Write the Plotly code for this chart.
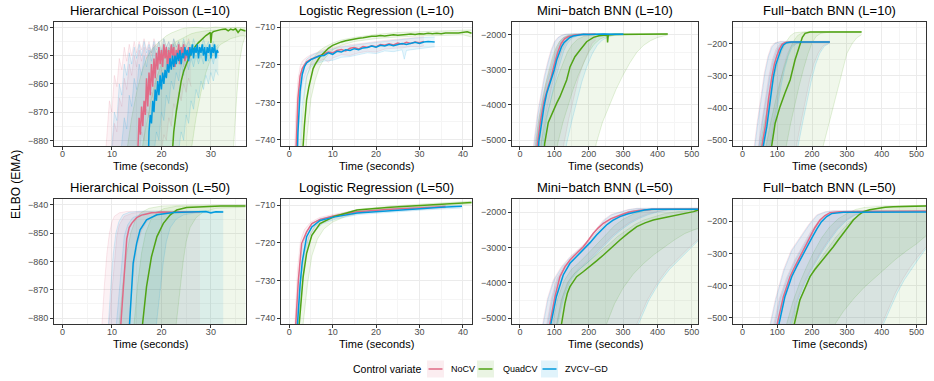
import plotly.graph_objects as go

# ---------------------------------------------------------------- data
# each curve: list of (time in seconds, ELBO EMA)
series_names = ["NoCV", "QuadCV", "ZVCV\u2212GD"]

# ---- Hierarchical Poisson (L=10)
hp10_nocv_med = [(15,-895),(15.25,-880),(15.5,-872),(15.75,-878),(16,-868),(16.25,-875),(16.5,-866),(16.75,-871),(17,-858),(17.25,-868),(17.5,-856),(17.75,-864),(18,-853),(18.25,-861),(18.5,-851),(18.75,-858),(19,-849),(19.25,-855),(19.5,-847),(19.75,-853),(20,-848),(20.25,-854),(20.5,-846),(20.75,-851),(21,-847),(21.25,-855),(21.5,-848),(21.75,-852),(22,-846),(22.25,-850),(22.5,-847),(22.75,-854),(23,-848),(23.25,-851),(23.5,-846),(23.75,-853),(24,-847),(24.25,-850),(24.5,-846),(24.75,-852),(25,-848),(25.25,-851),(25.5,-847),(25.75,-850),(26,-848)]
hp10_nocv_q95 = [(8.5,-890),(9,-878),(9.5,-866),(10,-870),(10.5,-857),(11,-861),(11.5,-851),(12,-855),(12.5,-847),(13,-852),(13.5,-846),(14,-850),(14.5,-845),(15,-849),(15.5,-845),(16,-848),(16.5,-844),(17,-848),(17.5,-845),(18,-849),(18.5,-844),(19,-847),(19.5,-845),(20,-848),(20.5,-844),(21,-847),(21.5,-845),(22,-849),(22.5,-844),(23,-847),(23.5,-845),(24,-848),(24.5,-845),(25,-847),(25.5,-844),(26,-847)]
hp10_nocv_q75 = [(9.5,-890),(10,-884),(10.5,-874),(11,-877),(11.5,-865),(12,-868),(12.5,-858),(13,-862),(13.5,-853),(14,-857),(14.5,-850),(15,-854),(15.5,-848),(16,-852),(16.5,-847),(17,-851),(17.5,-847),(18,-850),(18.5,-846),(19,-850),(19.5,-847),(20,-851),(20.5,-846),(21,-849),(21.5,-847),(22,-851),(22.5,-846),(23,-849),(23.5,-847),(24,-850),(24.5,-846),(25,-849),(25.5,-847),(26,-849)]
hp10_nocv_q25 = [(15,-890),(15.5,-885),(16,-877),(16.5,-880),(17,-869),(17.5,-872),(18,-863),(18.5,-866),(19,-858),(19.5,-861),(20,-855),(20.5,-858),(21,-852),(21.5,-856),(22,-851),(22.5,-855),(23,-850),(23.5,-853),(24,-850),(24.5,-854),(25,-849),(25.5,-852),(26,-850)]
hp10_nocv_q05 = [(19.5,-890),(20,-884),(20.5,-878),(21,-880),(21.5,-872),(22,-875),(22.5,-867),(23,-870),(23.5,-863),(24,-866),(24.5,-860),(25,-863),(25.5,-858),(26,-861)]
hp10_quad_med = [(21.8,-895),(22.5,-877),(23,-870),(23.5,-864),(24,-859),(24.5,-855.5),(25,-853),(25.5,-851),(26,-849),(26.5,-847.6),(27,-846.4),(27.5,-845.4),(28,-844.5),(28.5,-843.6),(29,-842.9),(29.5,-842.3),(29.9,-841.8),(30,-845.5),(30.2,-842),(30.5,-841.5),(31,-841.2),(31.5,-840.9),(32,-840.8),(32.5,-840.7),(33,-840.6),(33.5,-841.2),(34,-840.6),(34.5,-840.9),(35,-840.5),(35.5,-841.8),(36,-840.7),(36.5,-841.0),(37,-841.3)]
hp10_quad_q95 = [(12,-890),(13,-884),(14,-872),(15,-863),(16,-856),(17,-851),(18,-848),(19,-846),(20,-844.5),(21,-843),(22,-842),(23,-841.2),(24,-840.6),(25,-840.2),(27,-840.0),(29,-840.3),(31,-839.9),(33,-840.2),(35,-840.0),(37,-840.2)]
hp10_quad_q75 = [(15,-890),(16,-884),(17,-874),(18,-865),(19,-858),(20,-853),(21,-849),(22,-846.5),(23,-845),(24,-844),(25,-843),(26,-842.3),(27,-841.8),(28,-841.5),(29,-841.2),(31,-841.0),(33,-840.9),(35,-840.8),(37,-840.8)]
hp10_quad_q25 = [(25,-890),(26,-884),(27,-872),(28,-863),(29,-856),(30,-851),(31,-848),(32,-846),(33,-845),(34,-844),(35,-843.5),(36,-843),(37,-843)]
hp10_quad_q05 = [(34,-890),(34.6,-882),(35.2,-865),(35.8,-852),(36.4,-846),(37,-843)]
hp10_zv_med = [(17.25,-895),(17.5,-877),(17.75,-871),(18,-874),(18.25,-866),(18.5,-870),(18.75,-862),(19,-866),(19.25,-859),(19.5,-864),(19.75,-857),(20,-862),(20.25,-856),(20.5,-860),(20.75,-855),(21,-858),(21.25,-853),(21.5,-856),(21.75,-851),(22,-855),(22.25,-850),(22.5,-854),(22.75,-850),(23,-853),(23.25,-849),(23.5,-852),(23.75,-848),(24,-853),(24.25,-849),(24.5,-851),(24.75,-847),(25,-850),(25.25,-848),(25.5,-852),(25.75,-847),(26,-850),(26.25,-846),(26.5,-851),(26.75,-847),(27,-849),(27.25,-846),(27.5,-851),(27.75,-847),(28,-849),(28.25,-846),(28.5,-850),(28.75,-847),(29,-852),(29.25,-847),(29.5,-849),(29.75,-846),(30,-851),(30.25,-847),(30.5,-849),(30.75,-846),(31,-851),(31.25,-848),(31.5,-849)]
hp10_zv_q95 = [(9.5,-890),(10,-882),(10.5,-870),(11,-873),(11.5,-860),(12,-864),(12.5,-853),(13,-857),(13.5,-849),(14,-853),(14.5,-847),(15,-851),(15.5,-846),(16,-850),(16.5,-845),(17,-849),(17.5,-846),(18,-849),(18.5,-845),(19,-848),(19.5,-845),(20,-849),(20.5,-844),(21,-847),(21.5,-845),(22,-848),(22.5,-844),(23,-847),(23.5,-845),(24,-848),(24.5,-844),(25,-847),(25.5,-845),(26,-848),(26.5,-844),(27,-847),(27.5,-845),(28,-848),(28.5,-844),(29,-847),(29.5,-845),(30,-848),(30.5,-845),(31,-847),(31.5,-846)]
hp10_zv_q75 = [(11.5,-890),(12,-882),(12.5,-872),(13,-876),(13.5,-864),(14,-868),(14.5,-858),(15,-862),(15.5,-853),(16,-857),(16.5,-850),(17,-854),(17.5,-848),(18,-852),(18.5,-847),(19,-851),(19.5,-847),(20,-850),(20.5,-846),(21,-850),(21.5,-847),(22,-849),(22.5,-846),(23,-850),(23.5,-847),(24,-849),(24.5,-846),(25,-850),(25.5,-847),(26,-849),(26.5,-846),(27,-849),(27.5,-847),(28,-850),(28.5,-846),(29,-849),(29.5,-847),(30,-850),(30.5,-846),(31,-849),(31.5,-847)]
hp10_zv_q25 = [(18,-890),(18.5,-885),(19,-877),(19.5,-880),(20,-870),(20.5,-873),(21,-864),(21.5,-867),(22,-859),(22.5,-862),(23,-856),(23.5,-859),(24,-853),(24.5,-857),(25,-852),(25.5,-855),(26,-851),(26.5,-854),(27,-850),(27.5,-853),(28,-850),(28.5,-853),(29,-849),(29.5,-852),(30,-850),(30.5,-853),(31,-849),(31.5,-851)]
hp10_zv_q05 = [(23,-890),(23.5,-884),(24,-877),(24.5,-880),(25,-871),(25.5,-874),(26,-866),(26.5,-869),(27,-862),(27.5,-865),(28,-859),(28.5,-862),(29,-857),(29.5,-860),(30,-856),(30.5,-859),(31,-855),(31.5,-857)]

# ---- Logistic Regression (L=10)
lr10_nocv_med = [(1,-760),(1.5,-742),(2,-729),(2.5,-723),(3,-721),(3.5,-720),(4,-719.2),(5,-718.5),(6,-718),(7,-717.5),(8,-717.2),(9,-716.6),(10,-716.8),(11,-716.2),(12,-715.9),(13,-716.3),(14,-715.6),(15,-715.4),(16,-715.8),(17,-715.1),(18,-715.3),(19,-714.9),(20,-715.2),(21,-714.6),(22,-714.8),(23,-714.4),(24,-714.7),(25,-714.2),(26,-714.5),(27,-714.0),(28,-714.3),(29,-713.9),(30,-714.1),(31,-713.8)]
lr10_nocv_q95 = [(1,-752),(1.5,-733),(2,-724),(2.5,-720.5),(3,-719),(4,-718),(5,-717.3),(6,-716.8),(8,-716.0),(10,-715.5),(12,-715.0),(14,-714.6),(16,-714.4),(18,-714.0),(20,-713.8),(22,-713.5),(24,-713.3),(26,-713.0),(28,-712.8),(30,-712.6),(31,-712.5)]
lr10_nocv_q05 = [(1,-760),(1.5,-760),(2,-740),(2.5,-730),(3,-725),(4,-721.5),(5,-720),(6,-719.5),(8,-718.5),(9,-719.3),(10,-718.2),(12,-717.3),(14,-717.5),(16,-716.8),(18,-716.4),(20,-716.6),(22,-715.8),(24,-715.6),(26,-715.5),(28,-715.1),(30,-715.2),(31,-714.9)]
lr10_quad_med = [(2.5,-760),(3,-745),(3.5,-736),(4,-729.3),(4.5,-726),(5,-723),(5.5,-721),(6,-719.8),(7,-718),(8,-716.8),(9,-715.6),(10,-714.8),(11,-714.3),(12,-713.9),(13,-713.6),(14,-713.3),(15,-713.2),(16,-712.9),(17,-712.8),(18,-712.5),(19,-712.4),(20,-712.4),(21,-712.2),(22,-712.3),(23,-712.1),(24,-712.0),(25,-712.1),(26,-711.9),(27,-711.9),(28,-711.8),(29,-711.9),(30,-711.7),(31,-711.8),(32,-711.6),(33,-711.7),(34,-711.6),(35,-711.7),(36,-711.5),(37,-711.6),(38,-711.5),(39,-711.5),(40,-711.4),(41,-711.2),(42,-711.6)]
lr10_quad_q95 = [(2.5,-748),(3,-735),(3.5,-728),(4,-723.5),(5,-719.5),(6,-717.5),(7,-716.2),(8,-715.4),(10,-714.2),(12,-713.4),(15,-712.7),(20,-711.9),(25,-711.4),(30,-711.2),(35,-711.0),(40,-710.8),(42,-710.7)]
lr10_quad_q05 = [(2.5,-760),(3,-760),(3.5,-752),(4,-740),(5,-729),(6,-724),(7,-720.5),(8,-718.5),(10,-716.0),(12,-714.8),(15,-713.8),(20,-713.0),(25,-712.6),(30,-712.3),(35,-712.2),(40,-712.0),(42,-712.6)]
lr10_zv_med = [(1.5,-760),(2,-738),(2.5,-727),(3,-722.5),(3.5,-720.5),(4,-719.5),(5,-718.6),(6,-718.2),(7,-717.6),(8,-717.5),(9,-716.8),(10,-717.2),(11,-716.4),(12,-716.6),(13,-716.0),(14,-716.2),(15,-715.7),(16,-716.0),(17,-715.5),(18,-715.4),(19,-715.0),(20,-715.3),(21,-714.8),(22,-715.0),(23,-714.6),(24,-714.9),(25,-714.5),(26,-714.3),(27,-714.6),(28,-714.2),(29,-714.0),(30,-714.3),(31,-713.9),(32,-713.8),(33,-714.0),(33.5,-713.9)]
lr10_zv_q95 = [(1.5,-748),(2,-730),(2.5,-724),(3,-721),(4,-718.5),(5,-717.6),(6,-717.0),(8,-716.3),(10,-715.8),(12,-715.3),(14,-714.9),(16,-714.6),(18,-714.3),(20,-714.0),(22,-713.7),(24,-713.4),(26,-713.2),(28,-713.0),(30,-712.8),(32,-712.7),(33.5,-712.6)]
lr10_zv_q05 = [(1.5,-760),(2,-760),(2.5,-742),(3,-731),(4,-723),(5,-720.5),(6,-719.8),(8,-719.0),(10,-718.8),(12,-718.0),(14,-717.8),(16,-717.2),(18,-716.8),(20,-717.0),(22,-716.3),(24,-716.5),(26,-716.0),(26.5,-718.5),(27,-716.2),(28,-716.0),(30,-715.6),(32,-715.4),(33.5,-715.2)]

# ---- Mini-batch BNN (L=10)
mb10_nocv_med = [(45,-6000),(50,-5200),(60,-4450),(70,-3900),(80,-3550),(90,-3250),(100,-2850),(110,-2500),(120,-2250),(130,-2120),(140,-2060),(150,-2025),(160,-2005),(175,-1995),(190,-1985),(205,-1995),(220,-1985)]
mb10_nocv_q95 = [(35,-6000),(40,-5100),(50,-4300),(60,-3700),(70,-3200),(80,-2800),(90,-2450),(100,-2200),(110,-2080),(120,-2020),(130,-1990),(150,-1975),(180,-1970),(220,-1970)]
mb10_nocv_q75 = [(40,-6000),(45,-5050),(55,-4400),(65,-3800),(75,-3400),(85,-3050),(95,-2700),(105,-2400),(115,-2200),(125,-2090),(140,-2030),(160,-2000),(190,-1990),(220,-1985)]
mb10_nocv_q25 = [(55,-6000),(62,-5100),(72,-4400),(82,-3900),(92,-3500),(102,-3100),(112,-2750),(122,-2450),(132,-2250),(142,-2120),(155,-2050),(175,-2015),(200,-2000),(220,-1995)]
mb10_nocv_q05 = [(115,-6000),(128,-5100),(142,-4400),(156,-3800),(170,-3250),(185,-2800),(200,-2450),(210,-2250),(220,-2150)]
mb10_quad_med = [(66,-6000),(72,-5100),(82.5,-4500),(97,-4146),(107,-3950),(116.5,-3766),(126,-3550),(136,-3291),(146,-2911),(153,-2750),(160,-2627),(175,-2437),(194,-2200),(214,-2076),(230,-2030),(245,-2015),(254,-2005),(255,-2220),(257,-2010),(275,-1995),(300,-1990),(330,-1985),(360,-1990),(390,-1980),(410,-1985),(430,-1980)]
mb10_quad_q95 = [(40,-6000),(46,-5100),(56,-4350),(66,-3800),(76,-3350),(86,-2950),(96,-2600),(106,-2350),(116,-2180),(128,-2070),(140,-2010),(160,-1980),(200,-1970),(300,-1965),(430,-1965)]
mb10_quad_q75 = [(55,-6000),(62,-5100),(75,-4400),(88,-3900),(100,-3500),(112,-3150),(125,-2800),(138,-2500),(152,-2280),(168,-2130),(185,-2050),(210,-2010),(250,-1995),(430,-1985)]
mb10_quad_q25 = [(100,-6000),(110,-5100),(125,-4500),(140,-4000),(155,-3550),(170,-3150),(185,-2800),(200,-2500),(215,-2280),(232,-2130),(250,-2050),(275,-2010),(320,-1995),(430,-1990)]
mb10_quad_q05 = [(210,-6000),(222,-5100),(240,-4500),(260,-4000),(280,-3550),(300,-3150),(320,-2800),(340,-2500),(360,-2300),(380,-2170),(400,-2080),(420,-2030),(430,-2010)]
mb10_zv_med = [(50,-6000),(55,-5050),(63,-4525),(70,-4050),(78,-3671),(85,-3450),(92,-3291),(100,-3000),(107,-2722),(114,-2500),(121,-2342),(128,-2230),(136,-2152),(145,-2080),(155,-2038),(170,-2005),(185,-1990),(200,-1995),(215,-1985),(230,-1990),(245,-1980),(260,-1990),(275,-1985),(290,-1990),(301,-1985)]
mb10_zv_q95 = [(36,-6000),(42,-5100),(52,-4300),(62,-3700),(72,-3200),(82,-2800),(92,-2450),(102,-2200),(112,-2080),(122,-2020),(135,-1985),(160,-1970),(200,-1965),(301,-1965)]
mb10_zv_q75 = [(42,-6000),(48,-5050),(58,-4400),(68,-3800),(78,-3400),(88,-3050),(98,-2700),(108,-2400),(118,-2200),(128,-2090),(140,-2030),(160,-2000),(200,-1985),(250,-1980),(301,-1980)]
mb10_zv_q25 = [(60,-6000),(68,-5100),(78,-4400),(88,-3900),(98,-3500),(108,-3100),(118,-2750),(128,-2450),(138,-2250),(150,-2110),(165,-2040),(185,-2010),(210,-1995),(250,-1990),(301,-1985)]
mb10_zv_q05 = [(125,-6000),(136,-5100),(150,-4500),(165,-3900),(180,-3350),(195,-2900),(210,-2550),(225,-2300),(240,-2150),(260,-2050),(280,-2010),(301,-2000)]

# ---- Full-batch BNN (L=10)
fb10_nocv_med = [(50,-600),(56,-517),(66,-455),(75,-372),(85,-300),(92,-262),(99,-237),(106,-217),(114,-202),(123,-196),(140,-194.5),(180,-194.5),(251,-194.5)]
fb10_nocv_q95 = [(28,-600),(34,-517),(43,-440),(53,-360),(63,-290),(73,-240),(83,-208),(93,-197),(108,-193),(251,-192)]
fb10_nocv_q75 = [(40,-600),(46,-517),(56,-440),(66,-368),(76,-300),(86,-250),(96,-218),(106,-202),(118,-196),(251,-194)]
fb10_nocv_q25 = [(72,-600),(79,-517),(89,-450),(99,-383),(109,-320),(119,-270),(129,-232),(139,-209),(152,-199),(175,-195),(251,-194)]
fb10_nocv_q05 = [(145,-600),(155,-517),(167,-450),(180,-378),(193,-312),(205,-262),(218,-228),(232,-206),(251,-197)]
fb10_quad_med = [(80,-600),(84,-517),(94,-447),(108,-395.5),(122,-354),(137,-312.8),(151,-250.7),(158,-225),(165,-199),(172,-180),(180,-168),(194,-163.8),(250,-163.5),(342,-163.5)]
fb10_quad_q95 = [(45,-600),(51,-517),(62,-450),(75,-380),(88,-315),(100,-265),(112,-225),(125,-195),(138,-175),(150,-166),(180,-163),(342,-162)]
fb10_quad_q75 = [(62,-600),(68,-517),(80,-450),(93,-385),(106,-325),(119,-275),(132,-230),(145,-195),(158,-175),(172,-166),(200,-163.5),(342,-163)]
fb10_quad_q25 = [(118,-600),(126,-517),(138,-450),(150,-390),(162,-335),(175,-280),(188,-232),(200,-197),(212,-177),(225,-168),(250,-164),(342,-164)]
fb10_quad_q05 = [(220,-600),(232,-517),(248,-450),(262,-390),(275,-330),(288,-275),(300,-230),(315,-200),(328,-182),(342,-172)]
fb10_zv_med = [(55,-600),(60,-517),(70,-457.6),(79,-374.8),(89,-302.4),(96,-265),(103,-240.3),(110,-220),(117.6,-204),(127,-197),(140,-195),(160,-195),(200,-195),(251,-195)]
fb10_zv_q95 = [(30,-600),(36,-517),(45,-440),(55,-360),(65,-290),(75,-240),(85,-210),(95,-198),(110,-194),(251,-193)]
fb10_zv_q75 = [(42,-600),(48,-517),(58,-440),(68,-370),(78,-305),(88,-255),(98,-222),(108,-204),(120,-197),(251,-195)]
fb10_zv_q25 = [(75,-600),(82,-517),(92,-450),(102,-385),(112,-325),(122,-275),(132,-237),(142,-212),(155,-200),(175,-196),(251,-195)]
fb10_zv_q05 = [(150,-600),(160,-517),(172,-450),(185,-380),(198,-315),(210,-265),(222,-230),(235,-208),(251,-198)]

# ---- Hierarchical Poisson (L=50)
hp50_nocv_med = [(11.5,-890),(12,-877),(12.5,-862),(13,-852),(13.5,-848),(14,-846.5),(15,-844.5),(16,-843.6),(17,-843.2),(18,-842.8),(19,-842.7),(20,-842.5),(22,-842.6),(24,-842.4),(26,-842.5),(27.8,-842.4)]
hp50_nocv_q95 = [(7.5,-890),(8,-882),(8.5,-868),(9,-857),(9.5,-850),(10,-846),(10.5,-844),(11.5,-842.8),(13,-842.3),(27.8,-842.2)]
hp50_nocv_q75 = [(9,-890),(9.5,-880),(10,-868),(10.5,-858),(11,-851),(11.5,-847),(12.5,-844),(14,-843),(16,-842.5),(27.8,-842.4)]
hp50_nocv_q25 = [(13,-890),(13.5,-880),(14,-870),(14.5,-861),(15,-855),(16,-849),(17,-846),(18.5,-844),(20.5,-843),(27.8,-842.6)]
hp50_nocv_q05 = [(7.5,-890),(27.8,-890)]
hp50_quad_med = [(15.9,-890),(16.2,-882),(17,-868.9),(18,-858.3),(19.1,-851.2),(20.4,-846.5),(21.8,-843.5),(23.1,-841.8),(25.1,-840.9),(27.8,-840.6),(30,-840.5),(32,-840.4),(34,-840.4),(37,-840.4)]
hp50_quad_q95 = [(11,-890),(11.5,-882),(12.2,-868),(13,-857),(13.8,-850),(14.7,-845.5),(15.8,-842.8),(17.5,-841.2),(20,-840.4),(25,-840.1),(37,-840.0)]
hp50_quad_q75 = [(14,-890),(14.5,-882),(15.2,-868),(16,-857),(16.8,-850),(17.8,-845.5),(19,-842.8),(20.5,-841.3),(23,-840.5),(30,-840.3),(37,-840.2)]
hp50_quad_q25 = [(22.5,-890),(23,-882),(23.7,-870),(24.4,-860),(25,-853),(25.8,-848),(27,-844.5),(28.5,-842.5),(31,-841.2),(37,-840.8)]
hp50_quad_q05 = [(11,-890),(37,-890)]
hp50_zv_med = [(13.3,-890),(13.6,-880),(14,-870),(14.3,-860.6),(15,-853.6),(15.7,-848.8),(17,-845.3),(19.1,-843.5),(22.4,-842.7),(25,-842.5),(27,-842.6),(29,-842.3),(30,-842.8),(31,-842.4),(32.5,-842.5)]
hp50_zv_q95 = [(8.8,-890),(9.3,-882),(9.8,-868),(10.3,-857),(10.8,-850),(11.4,-846),(12.2,-843.5),(13.5,-842.6),(16,-842.2),(32.5,-842.1)]
hp50_zv_q75 = [(10.5,-890),(11,-880),(11.5,-868),(12,-858),(12.5,-851),(13.2,-847),(14.2,-844.5),(16,-843.2),(19,-842.6),(32.5,-842.4)]
hp50_zv_q25 = [(18.5,-890),(19,-882),(19.7,-870),(20.4,-860),(21,-853),(21.8,-848),(23,-845),(24.5,-843.5),(27,-842.8),(32.5,-842.6)]
hp50_zv_q05 = [(8.8,-890),(32.5,-890)]

# ---- Logistic Regression (L=50)
lr50_nocv_med = [(1.2,-760),(1.5,-741.5),(2.1,-729.9),(2.85,-720.2),(4,-717.1),(5.2,-714.9),(7.1,-713.8),(10.2,-712.9),(15.6,-711.8),(23.3,-711.1),(31,-710.7),(36,-710.4)]
lr50_nocv_q95 = [(1.0,-760),(1.3,-741.5),(1.9,-727),(2.6,-719.5),(3.5,-716.5),(5,-714.5),(7,-713.3),(10,-712.5),(15,-711.5),(23,-710.8),(31,-710.3),(36,-710.0)]
lr50_nocv_q05 = [(1.4,-760),(1.8,-741.5),(2.5,-731),(3.3,-723),(4.5,-718.5),(6,-715.6),(8,-714.3),(11,-713.3),(16,-712.2),(24,-711.5),(31,-711.1),(36,-710.8)]
lr50_quad_med = [(2.0,-760),(2.3,-741.5),(3.2,-729),(4,-722.8),(5.2,-718),(7.1,-714.9),(10.2,-713.1),(15.6,-711.3),(23.3,-710.6),(31,-710.0),(36,-709.7),(42,-709.3)]
lr50_quad_q95 = [(1.7,-760),(2.0,-741.5),(2.7,-730),(3.5,-723),(4.5,-718.5),(6,-715.2),(8,-713.6),(11,-712.5),(16,-711.1),(23.3,-710.3),(31,-709.7),(42,-709.0)]
lr50_quad_q05 = [(2.6,-760),(3.2,-741.5),(4.2,-731),(5.2,-723.5),(6.5,-719),(8,-716.3),(10,-714.5),(13,-713),(17,-711.9),(23.3,-711.0),(31,-710.4),(42,-709.7)]
lr50_zv_med = [(1.6,-760),(1.9,-741.5),(2.5,-731),(3,-725),(4,-718.4),(5.2,-715.8),(7.1,-714.1),(10.2,-713.2),(15.6,-712.1),(23.3,-711.4),(31,-710.9),(35,-710.6),(39.8,-710.3)]
lr50_zv_q95 = [(1.3,-760),(1.6,-741.5),(2.2,-729),(3,-721),(4,-717),(5.2,-715.0),(7.1,-713.6),(10.2,-712.8),(15.6,-711.8),(23.3,-711.0),(31,-710.5),(39.8,-710.0)]
lr50_zv_q05 = [(1.8,-760),(2.2,-741.5),(2.9,-732),(3.6,-725),(4.5,-720),(5.8,-716.8),(7.8,-714.8),(10.8,-713.7),(16,-712.5),(24,-711.8),(31,-711.3),(39.8,-710.8)]

# ---- Mini-batch BNN (L=50)
mb50_nocv_med = [(80,-6000),(87,-5170),(102,-4394),(116.5,-3826),(131,-3550),(145.6,-3353),(165,-3160),(184.5,-2975),(200,-2780),(213.6,-2596),(228,-2440),(242.7,-2312),(265,-2180),(291,-2076),(315,-2000),(340,-1953),(365,-1925),(388,-1915),(450,-1912),(519,-1912)]
mb50_nocv_q95 = [(60,-6000),(66,-5170),(80,-4450),(97,-3921),(120,-3550),(145.6,-3259),(170,-3050),(194,-2833),(218,-2520),(243,-2218),(265,-2060),(291,-1981),(315,-1920),(340,-1886),(400,-1880),(519,-1880)]
mb50_nocv_q75 = [(72,-6000),(78,-5170),(92,-4420),(108,-3870),(130,-3500),(155,-3300),(180,-3050),(200,-2850),(222,-2580),(245,-2350),(270,-2150),(295,-2040),(320,-1960),(345,-1925),(380,-1905),(519,-1900)]
mb50_nocv_q25 = [(100,-6000),(107,-5170),(125,-4400),(145,-3900),(170,-3600),(195,-3400),(220,-3150),(245,-2900),(270,-2650),(295,-2450),(320,-2280),(345,-2150),(370,-2050),(400,-1970),(430,-1930),(519,-1915)]
mb50_nocv_q05 = [(330,-6000),(340,-5170),(370,-4500),(400,-4000),(430,-3600),(460,-3300),(490,-3020),(519,-2760)]
mb50_quad_med = [(115,-6000),(121,-5170),(131,-4583),(138,-4300),(145.6,-4110),(165,-3826),(185,-3680),(204,-3543),(223,-3380),(243,-3211),(265,-3010),(291,-2785),(315,-2590),(340,-2407),(364,-2300),(388,-2218),(412,-2170),(437,-2123),(460,-2075),(485,-2028),(505,-1980),(519,-1934)]
mb50_quad_q95 = [(88,-6000),(95,-5170),(110,-4450),(128,-3950),(150,-3620),(175,-3400),(200,-3150),(225,-2900),(250,-2620),(275,-2380),(300,-2200),(330,-2050),(360,-1960),(400,-1910),(450,-1895),(519,-1890)]
mb50_quad_q75 = [(100,-6000),(107,-5170),(120,-4500),(138,-4000),(160,-3720),(185,-3520),(210,-3320),(235,-3120),(260,-2900),(285,-2680),(310,-2500),(335,-2340),(360,-2220),(390,-2120),(420,-2040),(460,-1980),(519,-1930)]
mb50_quad_q25 = [(245,-6000),(252,-5170),(275,-4600),(300,-4150),(330,-3750),(360,-3450),(390,-3200),(420,-2980),(450,-2780),(480,-2600),(519,-2450)]
mb50_quad_q05 = [(88,-6000),(519,-6000)]
mb50_zv_med = [(83,-6000),(90,-5170),(106,-4394),(126,-3779),(145.6,-3448),(165,-3260),(184.5,-3069),(204,-2860),(223,-2643),(237,-2500),(252,-2360),(270,-2230),(291,-2123),(315,-2040),(340,-1981),(362,-1935),(383.5,-1915),(450,-1912),(519,-1912)]
mb50_zv_q95 = [(62,-6000),(68,-5170),(82,-4450),(99,-3930),(122,-3560),(147,-3270),(172,-3060),(196,-2840),(220,-2530),(245,-2230),(267,-2070),(293,-1985),(317,-1925),(342,-1890),(400,-1882),(519,-1882)]
mb50_zv_q75 = [(75,-6000),(81,-5170),(95,-4420),(111,-3880),(133,-3520),(158,-3320),(183,-3070),(203,-2870),(225,-2600),(248,-2370),(273,-2170),(298,-2055),(323,-1970),(348,-1930),(383,-1908),(519,-1902)]
mb50_zv_q25 = [(103,-6000),(110,-5170),(128,-4400),(148,-3920),(173,-3620),(198,-3420),(223,-3170),(248,-2920),(273,-2670),(298,-2470),(323,-2300),(348,-2170),(373,-2070),(403,-1985),(433,-1935),(519,-1918)]
mb50_zv_q05 = [(335,-6000),(345,-5170),(375,-4500),(405,-4000),(435,-3620),(465,-3320),(495,-3040),(519,-2800)]

# ---- Full-batch BNN (L=50)
fb50_nocv_med = [(95,-600),(100,-519.7),(117.6,-434.6),(136.7,-372.3),(151,-340),(165.4,-310),(180,-278),(194,-247.8),(208,-220),(222.8,-195.8),(237,-182),(251.4,-173),(280,-170),(350,-169.5),(527,-169)]
fb50_nocv_q95 = [(74,-600),(79,-519.7),(95,-440),(117.6,-351.6),(140,-290),(165.4,-247.8),(190,-210),(213,-180),(237,-170),(260,-167),(527,-166)]
fb50_nocv_q75 = [(85,-600),(90,-519.7),(106,-440),(127,-375),(150,-320),(173,-275),(196,-232),(218,-200),(240,-181),(260,-172),(300,-169),(527,-168)]
fb50_nocv_q25 = [(130,-600),(137,-519.7),(155,-450),(175,-395),(198,-345),(222,-300),(246,-260),(270,-225),(295,-197),(320,-180),(345,-172),(380,-169.5),(527,-169)]
fb50_nocv_q05 = [(390,-600),(400,-519.7),(420,-470),(440,-420),(460,-380),(480,-345),(500,-315),(527,-279)]
fb50_quad_med = [(144,-600),(149,-519.7),(165,-445),(180,-405),(194,-372.3),(208,-350),(223,-330.8),(242,-305),(261,-278.9),(275,-258),(290,-237.4),(304,-215),(318.4,-196),(333,-181),(347,-170),(365,-164),(385,-159.5),(410,-156),(433,-154.3),(480,-153),(527,-152.2)]
fb50_quad_q95 = [(120,-600),(127,-519.7),(145,-450),(165,-390),(185,-340),(205,-295),(227,-252),(250,-218),(275,-192),(300,-176),(325,-163),(350,-157),(400,-153),(527,-150)]
fb50_quad_q75 = [(135,-600),(142,-519.7),(160,-455),(180,-405),(200,-360),(222,-320),(245,-283),(268,-250),(292,-220),(315,-195),(340,-177),(365,-165),(400,-157),(450,-153),(527,-151)]
fb50_quad_q25 = [(260,-600),(266,-519.7),(290,-480),(320,-440),(350,-405),(380,-375),(410,-345),(440,-318),(470,-293),(500,-270),(527,-245)]
fb50_quad_q05 = [(120,-600),(527,-600)]
fb50_zv_med = [(100,-600),(105,-519.7),(122,-434.6),(141.5,-372.3),(156,-340),(170,-310),(185,-280),(199,-252),(213,-225),(227,-201),(242,-185),(256,-176),(290,-172),(350,-171.5),(527,-171)]
fb50_zv_q95 = [(76,-600),(81,-519.7),(97,-440),(119.6,-352),(142,-291),(167,-249),(192,-211),(215,-181),(239,-171),(262,-168),(527,-167)]
fb50_zv_q75 = [(88,-600),(93,-519.7),(109,-440),(130,-375),(153,-320),(176,-276),(199,-233),(221,-201),(243,-182),(263,-173),(300,-170),(527,-169)]
fb50_zv_q25 = [(133,-600),(140,-519.7),(158,-450),(178,-396),(201,-346),(225,-301),(249,-261),(273,-226),(298,-198),(323,-181),(348,-173),(383,-171),(527,-170)]
fb50_zv_q05 = [(395,-600),(405,-519.7),(425,-470),(445,-422),(465,-382),(485,-348),(505,-318),(527,-285)]

panel_titles = ["Hierarchical Poisson (L=10)", "Logistic Regression (L=10)",
                "Mini\u2212batch BNN (L=10)", "Full\u2212batch BNN (L=10)",
                "Hierarchical Poisson (L=50)", "Logistic Regression (L=50)",
                "Mini\u2212batch BNN (L=50)", "Full\u2212batch BNN (L=50)"]

# ---------------------------------------------------------------- styling / layout
W, H = 934, 381
FONT = "Liberation Sans, Arial, Helvetica, sans-serif"
COLORS = ["#E16A86", "#50A315", "#009ADE"]

def rgba(hexc, a):
    h = hexc.lstrip("#")
    r, g, b = int(h[0:2], 16), int(h[2:4], 16), int(h[4:6], 16)
    return f"rgba({r},{g},{b},{a})"

# panel boxes in pixels (left, right, top, bottom)
cols_px = [(54, 246), (281, 472), (512, 698), (733, 926)]
rows_px = [(22, 146), (199, 324)]
xtitle_px = [166, 343.5]

panel_specs = [
    # x range, y range, x dtick, y dtick
    ([-1.7, 37.1], [-882.0, -838.1], 10, 10),
    ([-1.9, 42.1], [-741.6, -708.6], 10, 10),
    ([-23, 518], [-5171, -1638], 100, 1000),
    ([-27, 527], [-517.7, -132.6], 100, 100),
    ([-1.7, 37.1], [-882.1, -837.9], 10, 10),
    ([-1.9, 42.1], [-741.5, -708.4], 10, 10),
    ([-23, 518], [-5170, -1622], 100, 1000),
    ([-27, 527], [-519.6, -130.5], 100, 100),
]

panel_data = [
    [(hp10_nocv_med, hp10_nocv_q05, hp10_nocv_q25, hp10_nocv_q75, hp10_nocv_q95),
     (hp10_quad_med, hp10_quad_q05, hp10_quad_q25, hp10_quad_q75, hp10_quad_q95),
     (hp10_zv_med, hp10_zv_q05, hp10_zv_q25, hp10_zv_q75, hp10_zv_q95)],
    [(lr10_nocv_med, lr10_nocv_q05, None, None, lr10_nocv_q95),
     (lr10_quad_med, lr10_quad_q05, None, None, lr10_quad_q95),
     (lr10_zv_med, lr10_zv_q05, None, None, lr10_zv_q95)],
    [(mb10_nocv_med, mb10_nocv_q05, mb10_nocv_q25, mb10_nocv_q75, mb10_nocv_q95),
     (mb10_quad_med, mb10_quad_q05, mb10_quad_q25, mb10_quad_q75, mb10_quad_q95),
     (mb10_zv_med, mb10_zv_q05, mb10_zv_q25, mb10_zv_q75, mb10_zv_q95)],
    [(fb10_nocv_med, fb10_nocv_q05, fb10_nocv_q25, fb10_nocv_q75, fb10_nocv_q95),
     (fb10_quad_med, fb10_quad_q05, fb10_quad_q25, fb10_quad_q75, fb10_quad_q95),
     (fb10_zv_med, fb10_zv_q05, fb10_zv_q25, fb10_zv_q75, fb10_zv_q95)],
    [(hp50_nocv_med, hp50_nocv_q05, hp50_nocv_q25, hp50_nocv_q75, hp50_nocv_q95),
     (hp50_quad_med, hp50_quad_q05, hp50_quad_q25, hp50_quad_q75, hp50_quad_q95),
     (hp50_zv_med, hp50_zv_q05, hp50_zv_q25, hp50_zv_q75, hp50_zv_q95)],
    [(lr50_nocv_med, lr50_nocv_q05, None, None, lr50_nocv_q95),
     (lr50_quad_med, lr50_quad_q05, None, None, lr50_quad_q95),
     (lr50_zv_med, lr50_zv_q05, None, None, lr50_zv_q95)],
    [(mb50_nocv_med, mb50_nocv_q05, mb50_nocv_q25, mb50_nocv_q75, mb50_nocv_q95),
     (mb50_quad_med, mb50_quad_q05, mb50_quad_q25, mb50_quad_q75, mb50_quad_q95),
     (mb50_zv_med, mb50_zv_q05, mb50_zv_q25, mb50_zv_q75, mb50_zv_q95)],
    [(fb50_nocv_med, fb50_nocv_q05, fb50_nocv_q25, fb50_nocv_q75, fb50_nocv_q95),
     (fb50_quad_med, fb50_quad_q05, fb50_quad_q25, fb50_quad_q75, fb50_quad_q95),
     (fb50_zv_med, fb50_zv_q05, fb50_zv_q25, fb50_zv_q75, fb50_zv_q95)],
]

fig = go.Figure()

def xy(curve):
    return [p[0] for p in curve], [p[1] for p in curve]

def add_ribbon(lo, hi, color, ax):
    xl, yl = xy(lo)
    xh, yh = xy(hi)
    fig.add_trace(go.Scatter(x=xl, y=yl, mode="lines", xaxis=f"x{ax}", yaxis=f"y{ax}",
                             line=dict(color=rgba(color, 0.22), width=0.7),
                             showlegend=False, hoverinfo="skip"))
    fig.add_trace(go.Scatter(x=xh, y=yh, mode="lines", xaxis=f"x{ax}", yaxis=f"y{ax}",
                             line=dict(color=rgba(color, 0.22), width=0.7),
                             fill="tonexty", fillcolor=rgba(color, 0.085),
                             showlegend=False, hoverinfo="skip"))

layout_axes = {}
annotations = []
shapes = []

for i in range(8):
    ax = i + 1
    r, c = divmod(i, 4)
    l_px, r_px = cols_px[c]
    t_px, b_px = rows_px[r]
    xr, yr, xd, yd = panel_specs[i]
    for s in range(3):
        med, q05, q25, q75, q95 = panel_data[i][s]
        add_ribbon(q05, q95, COLORS[s], ax)
        if q25 is not None:
            add_ribbon(q25, q75, COLORS[s], ax)
    for s in range(3):
        med = panel_data[i][s][0]
        xm, ym = xy(med)
        fig.add_trace(go.Scatter(x=xm, y=ym, mode="lines", xaxis=f"x{ax}", yaxis=f"y{ax}",
                                 line=dict(color=COLORS[s], width=1.5),
                                 showlegend=False, hoverinfo="skip"))
    common = dict(showline=True, mirror=True, linecolor="#333333", linewidth=1,
                  showgrid=True, gridcolor="#EBEBEB", gridwidth=1,
                  zeroline=False, ticks="outside", ticklen=3, tickcolor="#333333",
                  tickwidth=1, tickfont=dict(family=FONT, size=9, color="#4D4D4D"),
                  fixedrange=True, tick0=0, tickformat="d")
    layout_axes[f"xaxis{ax}"] = dict(common, domain=[l_px / W, r_px / W], range=xr,
                                     dtick=xd, anchor=f"y{ax}", ticklabelstandoff=-4,
                                     minor=dict(dtick=xd / 2, showgrid=True,
                                                gridcolor="#F5F5F5", gridwidth=0.6))
    layout_axes[f"yaxis{ax}"] = dict(common, domain=[1 - b_px / H, 1 - t_px / H], range=yr,
                                     dtick=yd, anchor=f"x{ax}",
                                     minor=dict(dtick=yd / 2, showgrid=True,
                                                gridcolor="#F5F5F5", gridwidth=0.6))
    annotations.append(dict(text=panel_titles[i], x=(l_px + r_px) / 2 / W, y=1 - (t_px - 12) / H,
                            xref="paper", yref="paper", showarrow=False,
                            font=dict(family=FONT, size=13, color="#000000"),
                            xanchor="center", yanchor="middle"))
    annotations.append(dict(text="Time (seconds)", x=(l_px + r_px) / 2 / W, y=1 - xtitle_px[r] / H,
                            xref="paper", yref="paper", showarrow=False,
                            font=dict(family=FONT, size=11, color="#000000"),
                            xanchor="center", yanchor="middle"))

annotations.append(dict(text="ELBO (EMA)", x=16 / W, y=1 - 185 / H, xref="paper", yref="paper",
                        showarrow=False, textangle=-90,
                        font=dict(family=FONT, size=12, color="#000000"),
                        xanchor="center", yanchor="middle"))

# legend (drawn manually, ggplot style)
leg_y = 369
annotations.append(dict(text="Control variate", x=351 / W, y=1 - leg_y / H, xref="paper", yref="paper",
                        showarrow=False, font=dict(family=FONT, size=10.5, color="#000000"),
                        xanchor="left", yanchor="middle"))
key_left = [427, 477, 541]
label_left = [449, 501, 563]
for s in range(3):
    x0 = key_left[s]
    shapes.append(dict(type="rect", xref="paper", yref="paper",
                       x0=x0 / W, x1=(x0 + 17) / W, y0=1 - (leg_y + 8.5) / H, y1=1 - (leg_y - 8.5) / H,
                       fillcolor=rgba(COLORS[s], 0.12), line=dict(width=0)))
    shapes.append(dict(type="line", xref="paper", yref="paper",
                       x0=(x0 + 1.5) / W, x1=(x0 + 15.5) / W, y0=1 - leg_y / H, y1=1 - leg_y / H,
                       line=dict(color=COLORS[s], width=1.5)))
    annotations.append(dict(text=series_names[s], x=label_left[s] / W, y=1 - leg_y / H,
                            xref="paper", yref="paper", showarrow=False,
                            font=dict(family=FONT, size=9, color="#000000"),
                            xanchor="left", yanchor="middle"))

fig.update_layout(width=W, height=H, autosize=False,
                  margin=dict(l=0, r=0, t=0, b=0),
                  paper_bgcolor="white", plot_bgcolor="white",
                  showlegend=False, annotations=annotations, shapes=shapes,
                  font=dict(family=FONT), **layout_axes)

fig.write_html("out.html")
